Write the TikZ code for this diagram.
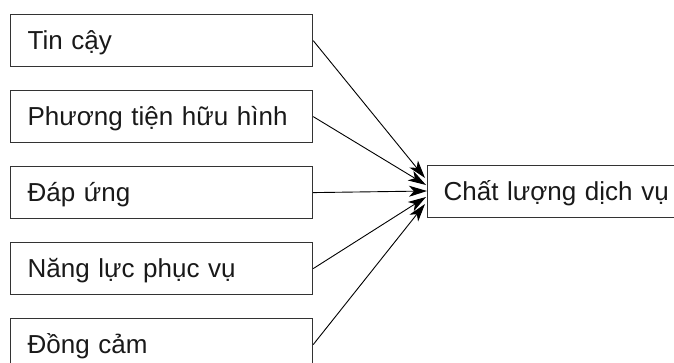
\documentclass[tikz,border=0pt]{standalone}
\usepackage{fontspec}
\setmainfont{Liberation Sans}
\usetikzlibrary{arrows.meta}
\begin{document}
\begin{tikzpicture}[x=1pt,y=-1pt,
  factor/.style={draw=black!80,line width=1.2pt,rectangle,anchor=north west,
    minimum width=302pt,minimum height=52pt,text width=268pt,align=left,
    inner xsep=17pt,inner ysep=0pt,text height=18pt,text depth=0pt,
    font=\fontsize{26}{31}\selectfont,text=black!90},
  link/.style={draw=black,line width=0.9pt,-{Stealth[length=18pt,width=11pt,inset=5pt]}}]
\useasboundingbox (0,0) rectangle (674,362);
\clip (0,0) rectangle (674,362);
\node[factor] (b1) at (10,14) {Tin cậy};
\node[factor] (b2) at (10,90) {Phương tiện hữu hình};
\node[factor] (b3) at (10,166) {Đáp ứng};
\node[factor] (b4) at (10,242) {Năng lực phục vụ};
\node[factor] (b5) at (10,318) {Đồng cảm};
\node[factor,minimum width=320pt,text width=288pt,inner xsep=16pt] (q) at (427,165) {Chất lượng dịch vụ};
% arrow tips fan out slightly along the left side of the result box
\coordinate (t1) at (425,178);
\coordinate (t2) at (426,185);
\coordinate (t3) at (427,191);
\coordinate (t4) at (426,197);
\coordinate (t5) at (425,204);
\draw[link] (b1.east) -- (t1);
\draw[link] (b2.east) -- (t2);
\draw[link] (b3.east) -- (t3);
\draw[link] (b4.east) -- (t4);
\draw[link] (b5.east) -- (t5);
\end{tikzpicture}
\end{document}
